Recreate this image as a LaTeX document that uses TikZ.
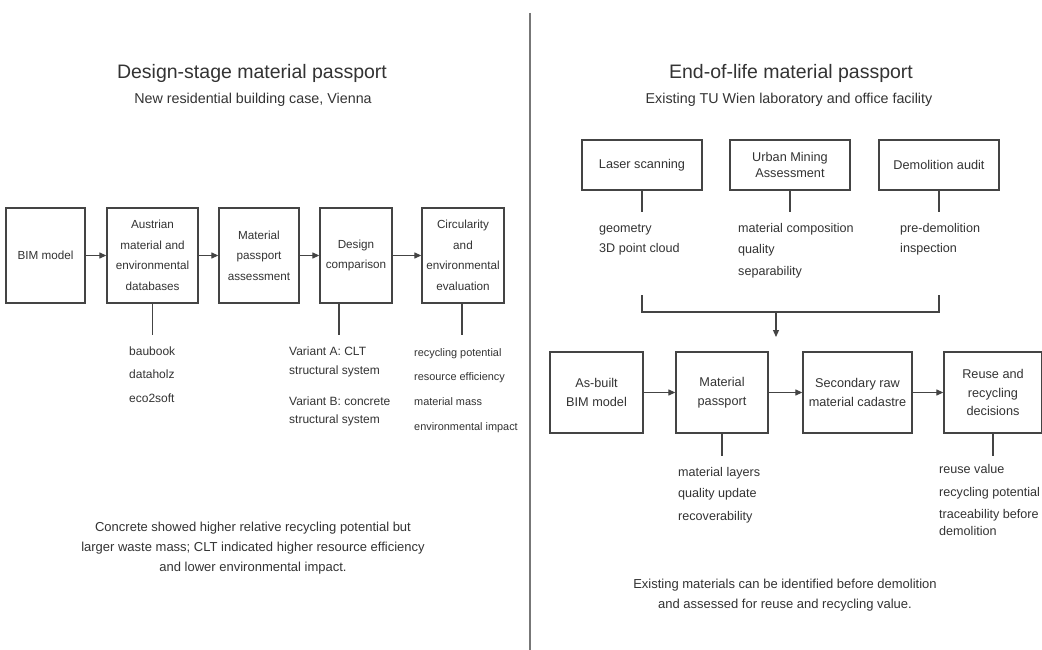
\documentclass[tikz,border=0pt]{standalone}
\usepackage{fontspec}
\setmainfont{Liberation Sans}
\usetikzlibrary{arrows.meta}
\definecolor{textc}{HTML}{333333}
\definecolor{linec}{HTML}{444444}
\definecolor{divc}{HTML}{777777}
\begin{document}
\begin{tikzpicture}[x=1pt,y=-1pt,
  box/.style={draw=linec, line width=1.3pt, align=center, inner sep=0pt, text=textc},
  lbox/.style={box, minimum height=95pt, font=\fontsize{11.7}{20.5}\selectfont},
  tbox/.style={box, minimum height=50pt, minimum width=120pt, font=\fontsize{12.7}{16.5}\selectfont},
  bbox/.style={box, minimum height=81pt, font=\fontsize{12.7}{18.5}\selectfont},
  item/.style={anchor=west, inner sep=0pt, text height=8pt, text depth=2pt, text=textc, font=\fontsize{12}{14}\selectfont},
  sitem/.style={item, font=\fontsize{10.9}{13}\selectfont},
  ritem/.style={item, font=\fontsize{12.6}{14}\selectfont},
  arr/.style={draw=linec, line width=1.2pt, -{Triangle[length=7pt,width=6pt]}},
  stub/.style={draw=linec, line width=1.2pt},
  ttl/.style={text=textc, inner sep=0pt, font=\fontsize{19.5}{22}\selectfont},
  sub/.style={text=textc, inner sep=0pt, font=\fontsize{14.3}{17}\selectfont},
  note/.style={text=textc, inner sep=0pt, align=center, font=\fontsize{13}{20}\selectfont}]
\useasboundingbox[fill=white] (0,0) rectangle (1042,650);
\draw[divc, line width=1.3pt] (530,13) -- (530,650);

% ---------- Left panel ----------
\node[ttl] (lt) at (252,73) {Design-stage material passport};
\node[sub] (ls) at (253,100) {New residential building case, Vienna};

\node[lbox, minimum width=79pt] (bim) at (45.5,255.5) {BIM model};
\node[lbox, minimum width=91pt] (aus) at (152.5,255.5) {Austrian\\material and\\environmental\\databases};
\node[lbox, minimum width=80pt] (mpa) at (259,255.5) {Material\\passport\\assessment};
\node[lbox, minimum width=72pt] (dc) at (356,255.5) {Design\\comparison};
\node[lbox, minimum width=82pt] (ce) at (463,255.5) {Circularity\\and\\environmental\\evaluation};

\draw[arr] (bim) -- (aus);
\draw[arr] (aus) -- (mpa);
\draw[arr] (mpa) -- (dc);
\draw[arr] (dc) -- (ce);

\coordinate (ausS) at (152.5,335);
\coordinate (dcS) at (339,335);
\coordinate (ceS) at (462,335);
\draw[stub] (ausS |- aus.south) -- (ausS);
\draw[stub] (dcS |- dc.south) -- (dcS);
\draw[stub] (ceS |- ce.south) -- (ceS);

\node[item] (l1) at (129,352) {baubook};
\node[item] (l2) at (129,375) {dataholz};
\node[item] (l3) at (129,399) {eco2soft};

\node[item] (v1) at (289,352) {Variant A: CLT};
\node[item] (v2) at (289,371) {structural system};
\node[item] (v3) at (289,402) {Variant B: concrete};
\node[item] (v4) at (289,420) {structural system};

\node[sitem] (c1) at (414,353) {recycling potential};
\node[sitem] (c2) at (414,377) {resource efficiency};
\node[sitem] (c3) at (414,402) {material mass};
\node[sitem] (c4) at (414,427) {environmental impact};

\node[note] (lnote) at (253,548) {Concrete showed higher relative recycling potential but\\larger waste mass; CLT indicated higher resource efficiency\\and lower environmental impact.};

% ---------- Right panel ----------
\node[ttl] (rt) at (791,73) {End-of-life material passport};
\node[sub] (rs) at (789,100) {Existing TU Wien laboratory and office facility};

\node[tbox] (ls2) at (642,165) {Laser scanning};
\node[tbox] (uma) at (790,165) {Urban Mining\\Assessment};
\node[tbox] (da) at (939,165) {Demolition audit};

\coordinate (lsS) at (642,212);
\coordinate (umaS) at (790,212);
\coordinate (daS) at (939,212);
\draw[stub] (ls2.south) -- (lsS);
\draw[stub] (uma.south) -- (umaS);
\draw[stub] (da.south) -- (daS);

\node[ritem] (g1) at (599,229) {geometry};
\node[ritem] (g2) at (599,249) {3D point cloud};
\node[ritem] (m1) at (738,229) {material composition};
\node[ritem] (m2) at (738,250) {quality};
\node[ritem] (m3) at (738,272) {separability};
\node[ritem] (p1) at (900,229) {pre-demolition};
\node[ritem] (p2) at (900,249) {inspection};

\coordinate (bl) at (642,295);
\coordinate (br) at (939,295);
\coordinate (bj) at (776,312);
\coordinate (bt) at (776,337);
\draw[stub] (bl) |- (br |- bj) -- (br);
\draw[arr] (bj) -- (bt);

\node[bbox, minimum width=93pt] (ab) at (596.5,392.5) {As-built\\BIM model};
\node[bbox, minimum width=92pt] (mp) at (722,392.5) {Material\\passport};
\node[bbox, minimum width=109pt] (sr) at (857.5,392.5) {Secondary raw\\material cadastre};
\node[bbox, minimum width=98pt] (rr) at (993,392.5) {Reuse and\\recycling\\decisions};

\draw[arr] (ab) -- (mp);
\draw[arr] (mp) -- (sr);
\draw[arr] (sr) -- (rr);

\coordinate (mpS) at (722,456);
\coordinate (rrS) at (993,456);
\draw[stub] (mp.south) -- (mpS);
\draw[stub] (rr.south) -- (rrS);

\node[ritem] (q1) at (678,473) {material layers};
\node[ritem] (q2) at (678,494) {quality update};
\node[ritem] (q3) at (678,517) {recoverability};

\node[ritem] (r1) at (939,470) {reuse value};
\node[ritem] (r2) at (939,493) {recycling potential};
\node[ritem] (r3) at (939,515) {traceability before};
\node[ritem] (r4) at (939,532) {demolition};

\node[note] (rnote) at (785,595) {Existing materials can be identified before demolition\\and assessed for reuse and recycling value.};
\end{tikzpicture}
\end{document}
